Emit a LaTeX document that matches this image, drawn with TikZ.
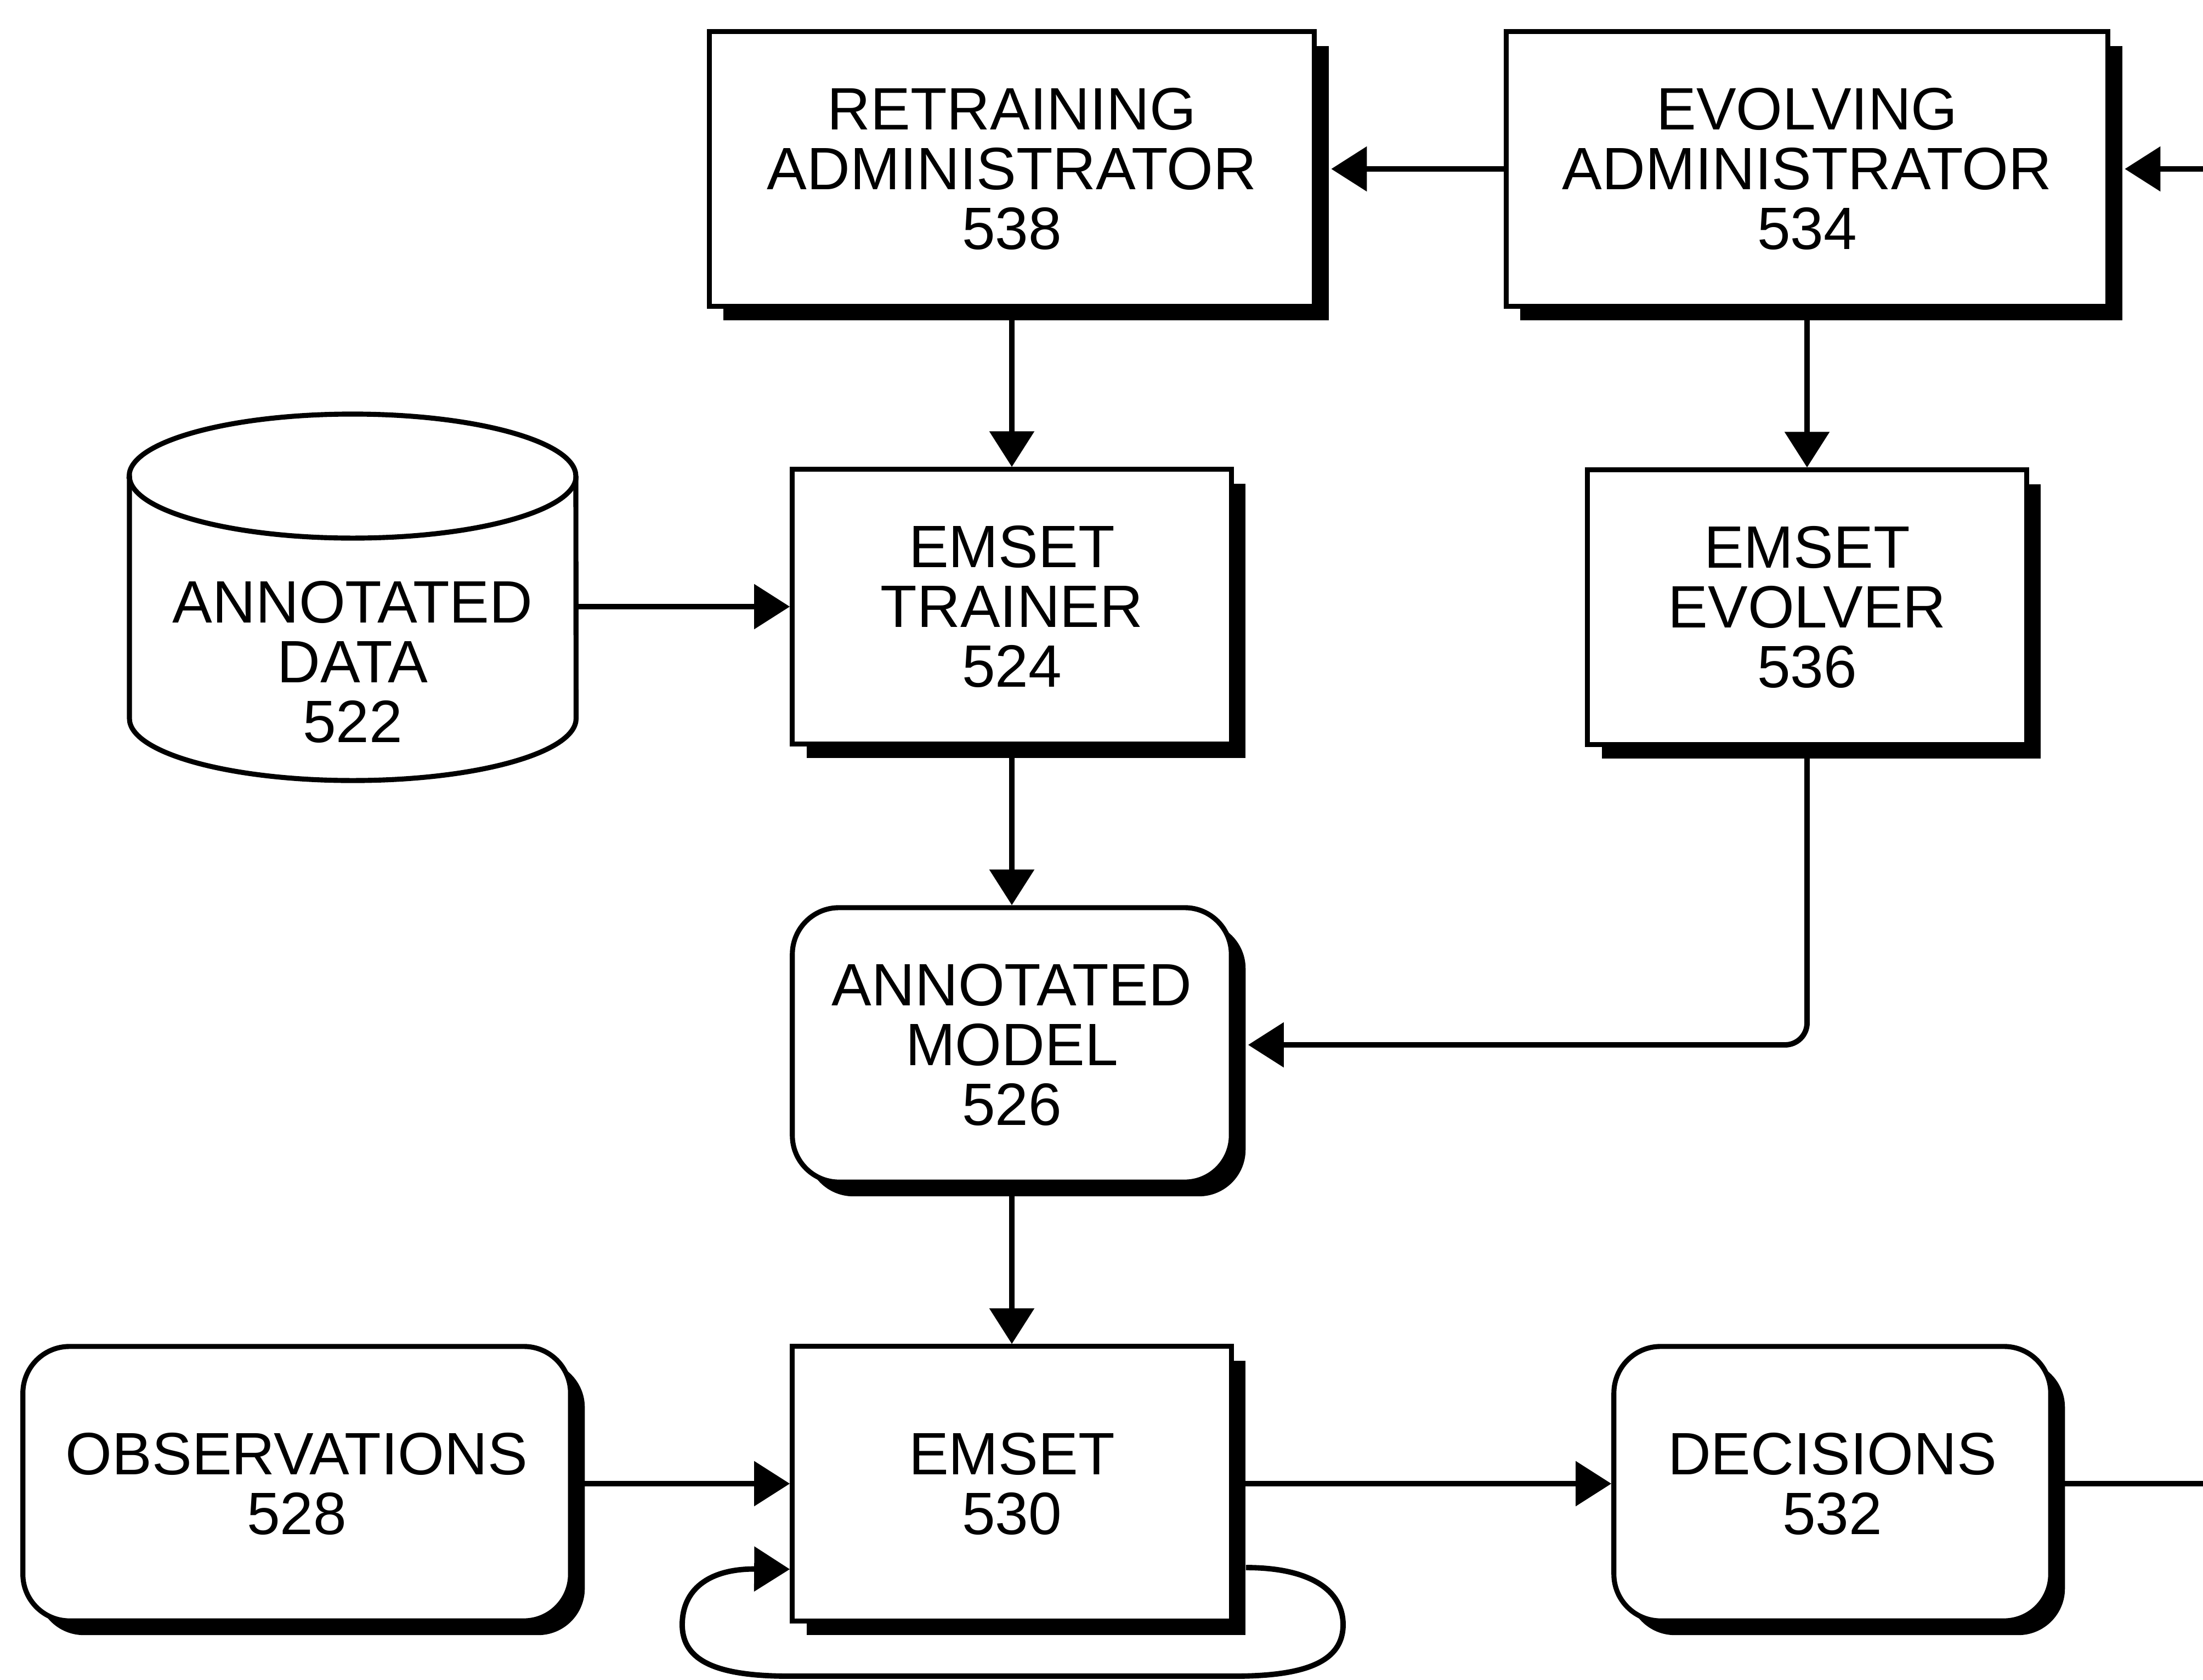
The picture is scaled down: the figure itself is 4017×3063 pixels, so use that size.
\documentclass[tikz,border=0pt]{standalone}
\usepackage{fontspec}
\setmainfont{Liberation Sans}
\usetikzlibrary{arrows.meta,shadows,calc}

\tikzset{
  outline/.style={draw=black, line width=2.6pt, fill=white},
  castshadow/.style={drop shadow={shadow xshift=2.6mm, shadow yshift=-2.6mm, fill=black, opacity=1}},
  txt/.style={font=\fontsize{31}{31}\selectfont, align=center, inner sep=0pt},
  block/.style={outline, castshadow, txt, minimum height=5cm},
  roundblock/.style={block, rounded corners=0.85cm},
  wire/.style={line width=2.8pt},
  conn/.style={wire, -{Triangle[length=6.5mm, width=8mm]}},
}

\begin{document}
\begin{tikzpicture}[x=0.01cm, y=-0.01cm]
\useasboundingbox (0,0) rectangle (4017,3063);

% administrators
\node[block, minimum width=11.03cm] (ra) at (1845,308) {RETRAINING\\ADMINISTRATOR\\538};
\node[block, minimum width=10.97cm] (ea) at (3295,308) {EVOLVING\\ADMINISTRATOR\\534};

% annotated data store (cylinder)
\draw[outline] (236,868) -- (236,1310)
  arc[start angle=180, end angle=360, x radius=4.07cm, y radius=1.13cm]
  -- (1050,868)
  arc[start angle=0, end angle=180, x radius=4.07cm, y radius=1.13cm] -- cycle;
\draw[line width=2.6pt] (236,868)
  arc[start angle=180, end angle=360, x radius=4.07cm, y radius=1.13cm];
\node[txt, minimum width=8.14cm] (ad) at (643,1207) {ANNOTATED\\DATA\\522};

% trainer / evolver
\node[block, minimum width=8cm] (et) at (1845,1106) {EMSET\\TRAINER\\524};
\node[block, minimum width=8cm] (ev) at (3295,1107) {EMSET\\EVOLVER\\536};

% model
\node[roundblock, minimum width=8cm] (am) at (1845,1905) {ANNOTATED\\MODEL\\526};

% bottom row
\node[roundblock, minimum width=9.98cm] (obs) at (541,2705) {OBSERVATIONS\\528};
\node[block, minimum width=8cm] (emset) at (1845,2705) {EMSET\\530};
\node[roundblock, minimum width=7.96cm] (dec) at (3341,2705) {DECISIONS\\532};

% off-page ends
\coordinate (in534) at (4017,308);
\coordinate (out532) at (4017,2705);

% connectors
\draw[conn] (in534) -- ([xshift=2.6mm]ea.east);
\draw[conn] (ea.west) -- ([xshift=2.6mm]ra.east);
\draw[conn] (ra.south) -- (et.north);
\draw[conn] (ea.south) -- (ev.north);
\draw[conn] (ad.east |- et.west) -- (et.west);
\draw[conn] (et.south) -- (am.north);
\draw[conn, rounded corners=4mm] (ev.south) |- ([xshift=2.6mm]am.east);
\draw[conn] (am.south) -- (emset.north);
\draw[conn] (obs.east) -- (emset.west);
\draw[conn] (emset.east) -- (dec.west);
\draw[wire] (dec.east) -- (out532);

% feedback loop around EMSET
\draw[conn] ($(emset.east)+(22,153)$)
  .. controls (2390,2858) and (2449,2900) .. (2449,2962)
  .. controls (2449,3030) and (2380,3056) .. (2250,3056)
  -- (1440,3056)
  .. controls (1310,3056) and (1244,3030) .. (1244,2962)
  .. controls (1244,2900) and (1290,2860) .. ($(emset.west)+(0,156)$);
\end{tikzpicture}
\end{document}
